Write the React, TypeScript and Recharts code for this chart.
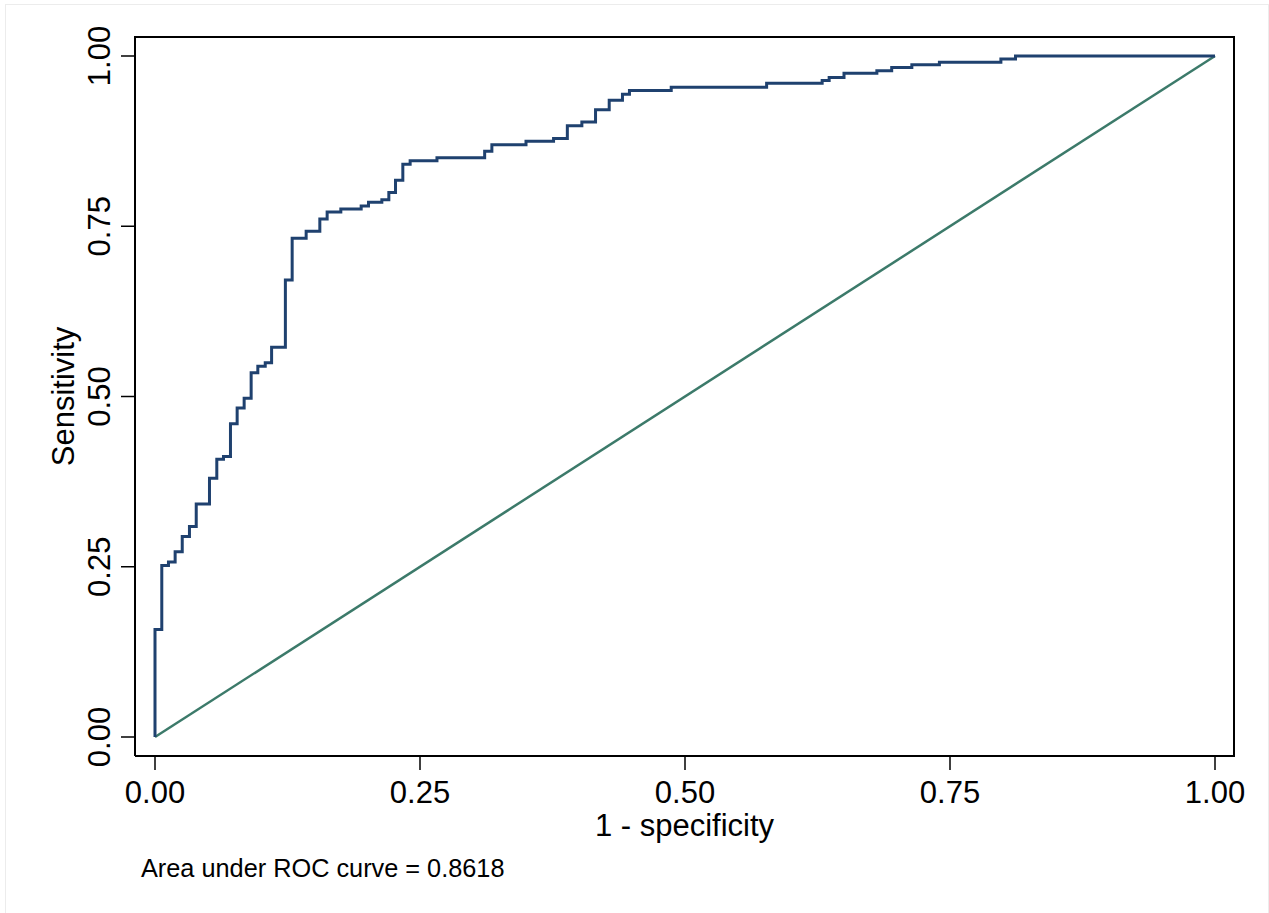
import { LineChart, Line, XAxis, YAxis, Label } from "recharts"

// ROC corner points (1 - specificity, sensitivity)
const fpr = [
  0, 0.0064, 0.0127, 0.019, 0.0257, 0.0325, 0.0389, 0.0514, 0.0583, 0.0646,
  0.0712, 0.0775, 0.0841, 0.0907, 0.097, 0.104, 0.11, 0.123, 0.1294, 0.1426,
  0.1555, 0.1624, 0.1753, 0.1945, 0.2014, 0.214, 0.2206, 0.2269, 0.2338, 0.2407,
  0.266, 0.311, 0.3178, 0.35, 0.376, 0.389, 0.4027, 0.4156, 0.4285, 0.441,
  0.4476, 0.487, 0.577, 0.6294, 0.636, 0.65, 0.681, 0.695, 0.714, 0.74,
  0.798, 0.8118, 1,
]
const tpr = [
  0, 0.158, 0.252, 0.257, 0.272, 0.2946, 0.309, 0.342, 0.38, 0.408,
  0.412, 0.46, 0.483, 0.4975, 0.535, 0.5445, 0.5495, 0.5725, 0.671, 0.7324,
  0.7426, 0.7608, 0.771, 0.7755, 0.7799, 0.7853, 0.789, 0.7995, 0.8176, 0.841,
  0.846, 0.8505, 0.86, 0.8696, 0.875, 0.879, 0.8975, 0.903, 0.921, 0.935,
  0.944, 0.9495, 0.954, 0.96, 0.964, 0.9686, 0.9745, 0.9784, 0.983, 0.987,
  0.9907, 0.9956, 1,
]
const refX = [0, 1]
const refY = [0, 1]
const ticks = [0, 0.25, 0.5, 0.75, 1]
const aucNote = "Area under ROC curve = 0.8618"

const rocData = fpr.map((x, i) => ({ x, y: tpr[i] }))
const refData = refX.map((x, i) => ({ x, y: refY[i] }))

const FONT = '"Liberation Sans", Arial, Helvetica, sans-serif'

const YTick = (props: any) => {
  const { x, y, payload } = props
  const tx = x - 11
  return (
    <text x={tx} y={y} transform={`rotate(-90, ${tx}, ${y})`} textAnchor="middle" fontSize={31} fill="#000" fontFamily={FONT}>
      {Number(payload.value).toFixed(2)}
    </text>
  )
}

export default function App() {
  return (
    <div style={{ position: "absolute", left: 0, top: 0, width: 1269, height: 913, background: "#fff", fontFamily: FONT }}>
      <div style={{ position: "absolute", left: 5, top: 4, width: 1262, height: 920, borderTop: "1px solid #ececec", borderLeft: "1px solid #ececec", borderRight: "1px solid #ececec" }} />
      <LineChart width={1269} height={913} margin={{ top: 37, right: 35, bottom: 77, left: 55 }}>
        <XAxis
          dataKey="x"
          type="number"
          domain={[0, 1]}
          ticks={ticks}
          padding={{ left: 20, right: 19 }}
          height={80}
          tickSize={14}
          tickMargin={11}
          tickFormatter={(v: number) => v.toFixed(2)}
          tick={{ fill: "#000", fontSize: 31, fontFamily: FONT }}
          axisLine={{ stroke: "#000", strokeWidth: 2 }}
          tickLine={{ stroke: "#000", strokeWidth: 1.5 }}
        >
          <Label
            content={({ viewBox }: any) => (
              <text x={viewBox.x + viewBox.width / 2} y={viewBox.y + 80} textAnchor="middle" fontSize={31} fill="#000" fontFamily={FONT}>
                1 - specificity
              </text>
            )}
          />
        </XAxis>
        <YAxis
          dataKey="y"
          type="number"
          domain={[0, 1]}
          ticks={ticks}
          padding={{ top: 19, bottom: 19 }}
          width={80}
          tickSize={14}
          tickMargin={0}
          tick={<YTick />}
          axisLine={{ stroke: "#000", strokeWidth: 2 }}
          tickLine={{ stroke: "#000", strokeWidth: 1.5 }}
        >
          <Label
            content={({ viewBox }: any) => {
              const lx = viewBox.x + 18.5
              const ly = viewBox.y + viewBox.height / 2
              return (
                <text x={lx} y={ly} transform={`rotate(-90, ${lx}, ${ly})`} textAnchor="middle" fontSize={31} fill="#000" fontFamily={FONT}>
                  Sensitivity
                </text>
              )
            }}
          />
        </YAxis>
        <Line data={refData} dataKey="y" type="linear" stroke="#3c7a6a" strokeWidth={2.5} dot={false} activeDot={false} isAnimationActive={false} />
        <Line data={rocData} dataKey="y" type="stepBefore" stroke="#1f416f" strokeWidth={3} dot={false} activeDot={false} isAnimationActive={false} />
      </LineChart>
      {/* top and right edges of the plot frame */}
      <div style={{ position: "absolute", left: 134, top: 36, width: 1101, height: 721, boxSizing: "border-box", borderTop: "2px solid #000", borderRight: "2px solid #000", pointerEvents: "none" }} />
      <div style={{ position: "absolute", left: 141, top: 853, fontSize: 25.3, lineHeight: "30px", color: "#000", whiteSpace: "nowrap" }}>{aucNote}</div>
    </div>
  )
}
